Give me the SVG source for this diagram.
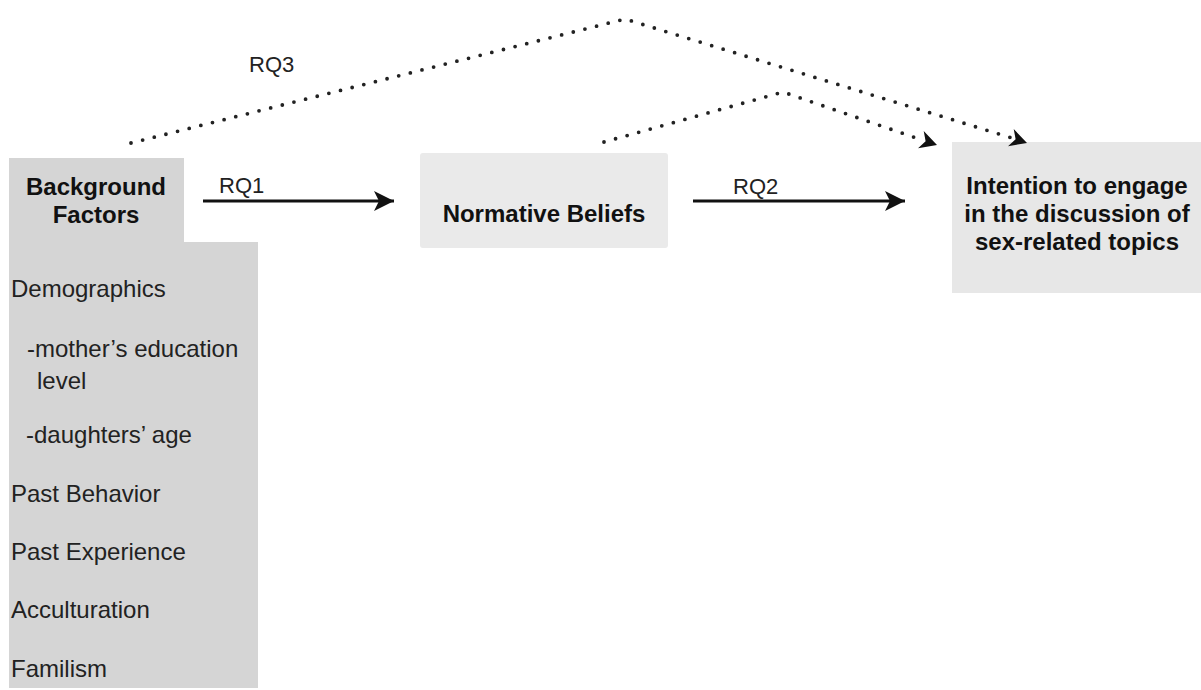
<svg xmlns="http://www.w3.org/2000/svg" width="1201" height="690" viewBox="0 0 1201 690">
<style>
.bold{font-family:"Liberation Sans",Arial,sans-serif;font-weight:bold;font-size:24px;fill:#111}
.reg{font-family:"Liberation Sans",Arial,sans-serif;font-size:24px;fill:#222}
.lbl{font-family:"Liberation Sans",Arial,sans-serif;font-size:22px;fill:#222}
.solid{fill:none;stroke:#111;stroke-width:3.2}
.dot{fill:none;stroke:#222;stroke-width:3.8;stroke-linecap:round;stroke-dasharray:0 12}
</style>
<defs>
<marker id="arrow" markerUnits="userSpaceOnUse" markerWidth="22" markerHeight="22" viewBox="0 0 22 22" refX="20" refY="11" orient="auto">
<path d="M0,1 L20,11 L0,21 L5,11 Z" fill="#111"/>
</marker>
<marker id="arrowd" markerUnits="userSpaceOnUse" markerWidth="20" markerHeight="20" viewBox="0 0 20 20" refX="18" refY="10" orient="auto">
<path d="M1,1 L18,10 L1,19 L6,10 Z" fill="#111"/>
</marker>
</defs>
<rect width="1201" height="690" fill="#fff"/>
<g id="background-factors">
<rect x="9" y="158" width="175" height="85" fill="#d5d5d5"/>
<rect x="9" y="242" width="249" height="446" fill="#d5d5d5"/>
<text class="bold" x="96" y="195" text-anchor="middle">Background</text>
<text class="bold" x="96" y="223" text-anchor="middle">Factors</text>
<text class="reg" x="11" y="297">Demographics</text>
<text class="reg" x="27" y="357">-mother’s education</text>
<text class="reg" x="37" y="389">level</text>
<text class="reg" x="26" y="443">-daughters’ age</text>
<text class="reg" x="11" y="502">Past Behavior</text>
<text class="reg" x="11" y="560">Past Experience</text>
<text class="reg" x="11" y="618">Acculturation</text>
<text class="reg" x="11" y="677">Familism</text>
</g>
<g id="normative-beliefs">
<rect x="420" y="153" width="248" height="95" rx="3" fill="#eaeaea"/>
<text class="bold" x="544" y="222" text-anchor="middle">Normative Beliefs</text>
</g>
<g id="intention">
<rect x="952" y="142" width="252" height="151" fill="#e7e7e7"/>
<text class="bold" x="1077" y="194" text-anchor="middle">Intention to engage</text>
<text class="bold" x="1077" y="222" text-anchor="middle">in the discussion of</text>
<text class="bold" x="1077" y="250" text-anchor="middle">sex-related topics</text>
</g>
<g id="connectors">
<path class="solid" d="M203,201 L394,201" marker-end="url(#arrow)"/>
<path class="solid" d="M693,201 L905,201" marker-end="url(#arrow)"/>
<path class="dot" d="M131,143 L625,19 L1012,138"/>
<path class="dot" d="M604,142 L783,92 L922,140"/>
<path d="M1012,138 L1027,143" fill="none" stroke="none" marker-end="url(#arrowd)"/>
<path d="M922,140 L937,145" fill="none" stroke="none" marker-end="url(#arrowd)"/>
<text class="lbl" x="219" y="193">RQ1</text>
<text class="lbl" x="733" y="194">RQ2</text>
<text class="lbl" x="249" y="72">RQ3</text>
</g>
</svg>
